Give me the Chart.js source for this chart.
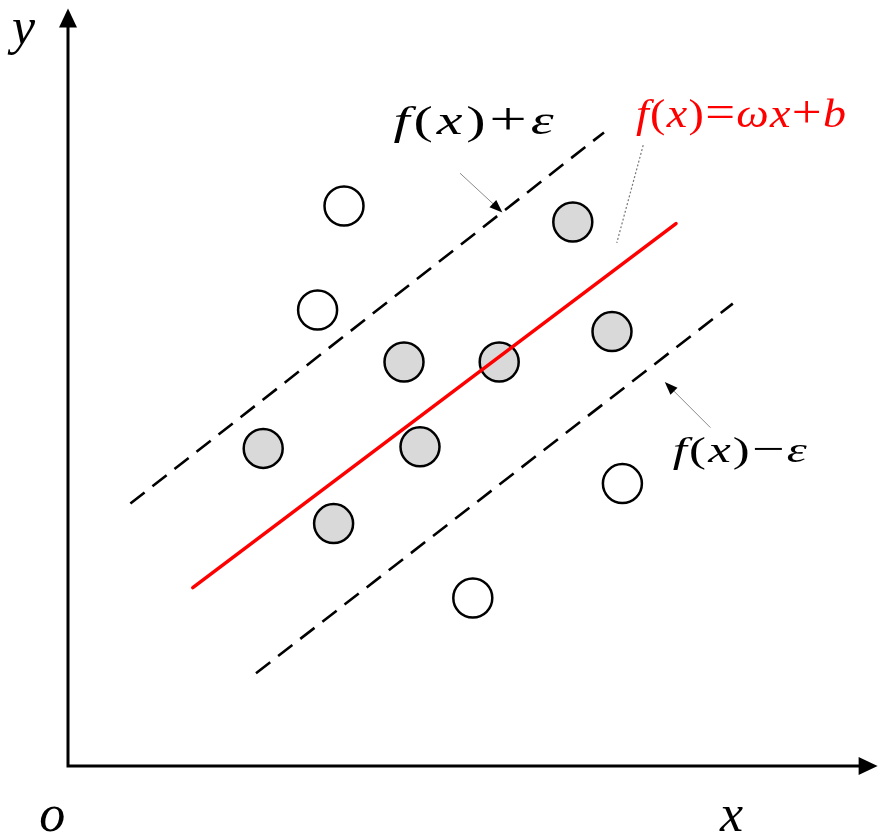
<!DOCTYPE html>
<html>
<head>
<meta charset="utf-8">
<script src="https://cdn.jsdelivr.net/npm/chart.js@4"></script>
<style>
  html, body { margin: 0; padding: 0; background: #fff; }
  #wrap { width: 886px; height: 838px; position: relative; }
</style>
</head>
<body>
<div id="wrap"><canvas id="svr"></canvas></div>
<script>
// sample points (x, y) in plot units, origin at the axis corner
const outsideX = [3.45, 3.12, 6.93, 5.06];
const outsideY = [7.0, 5.7, 3.53, 2.1];
const insideX = [6.31, 4.2, 5.39, 6.8, 2.44, 4.4, 3.32];
const insideY = [6.8, 5.05, 5.05, 5.43, 3.97, 3.99, 3.03];

// regression line f(x) and the epsilon tube
const fitX = [1.56, 7.6];
const fitY = [2.23, 6.78];
const upperX = [0.78, 6.7];
const upperY = [3.28, 7.92];
const lowerX = [2.35, 8.31];
const lowerY = [1.16, 5.78];

const pts = (xs, ys) => xs.map((x, i) => ({ x, y: ys[i] }));

// labels: segments of [text, italic]; w = total width in px, sx = glyph stretch
const labels = [
  { x: 4.07, y: 7.9, size: 40, w: 160, sx: 1.45, color: '#000', parts: [['f', 1], ['(', 0], ['x', 1], [')', 0], ['+', 0], ['ε', 1]] },
  { x: 7.1, y: 7.99, size: 40, w: 210, sx: 1.15, color: '#ff0000', parts: [['f', 1], ['(', 0], ['x', 1], [')', 0], ['=', 0], ['ω', 1], ['x', 1], ['+', 0], ['b', 1]] },
  { x: 7.56, y: 3.8, size: 35, w: 134, sx: 1.45, color: '#000', parts: [['f', 1], ['(', 0], ['x', 1], [')', 0], ['−', 0], ['ε', 1]] }
];
const arrows = [
  { from: [4.9, 7.41], to: [5.43, 6.92] },
  { from: [8.03, 4.23], to: [7.46, 4.8] }
];
const pointer = { from: [7.19, 7.76], to: [6.86, 6.54] };

const overlay = {
  id: 'overlay',
  afterDatasetsDraw(chart) {
    const { ctx, scales } = chart;
    const px = (v) => scales.x.getPixelForValue(v);
    const py = (v) => scales.y.getPixelForValue(v);
    const ox = px(0), oy = py(0);
    ctx.save();

    // axes with arrow heads
    ctx.strokeStyle = '#000';
    ctx.fillStyle = '#000';
    ctx.lineWidth = 3;
    const tipX = px(10.12), tipY = py(9.47);
    ctx.beginPath();
    ctx.moveTo(ox, tipY + 10);
    ctx.lineTo(ox, oy);
    ctx.lineTo(tipX - 10, oy);
    ctx.stroke();
    ctx.beginPath();
    ctx.moveTo(ox, tipY);
    ctx.lineTo(ox - 9, tipY + 19);
    ctx.lineTo(ox + 9, tipY + 19);
    ctx.closePath();
    ctx.fill();
    ctx.beginPath();
    ctx.moveTo(tipX, oy);
    ctx.lineTo(tipX - 19, oy - 9);
    ctx.lineTo(tipX - 19, oy + 9);
    ctx.closePath();
    ctx.fill();

    // small pointer arrows
    arrows.forEach((a) => {
      const x1 = px(a.from[0]), y1 = py(a.from[1]);
      const x2 = px(a.to[0]), y2 = py(a.to[1]);
      const ang = Math.atan2(y2 - y1, x2 - x1);
      ctx.strokeStyle = '#8a8a8a';
      ctx.lineWidth = 1;
      ctx.beginPath();
      ctx.moveTo(x1, y1);
      ctx.lineTo(x2 - 8 * Math.cos(ang), y2 - 8 * Math.sin(ang));
      ctx.stroke();
      ctx.fillStyle = '#000';
      ctx.beginPath();
      ctx.moveTo(x2, y2);
      ctx.lineTo(x2 - 13 * Math.cos(ang) + 5 * Math.sin(ang), y2 - 13 * Math.sin(ang) - 5 * Math.cos(ang));
      ctx.lineTo(x2 - 13 * Math.cos(ang) - 5 * Math.sin(ang), y2 - 13 * Math.sin(ang) + 5 * Math.cos(ang));
      ctx.closePath();
      ctx.fill();
    });

    // dotted leader to the red label
    ctx.strokeStyle = '#777';
    ctx.lineWidth = 1.2;
    ctx.setLineDash([2, 2]);
    ctx.beginPath();
    ctx.moveTo(px(pointer.from[0]), py(pointer.from[1]));
    ctx.lineTo(px(pointer.to[0]), py(pointer.to[1]));
    ctx.stroke();
    ctx.setLineDash([]);

    // formula labels: widened glyphs, bigger operators, spacing fills the rest
    ctx.textBaseline = 'alphabetic';
    const ops = ['+', '−', '='];
    const fontOf = (t, it, size) => (it ? 'italic ' : '') + Math.round(ops.includes(t) ? size * 1.15 : size) +
      'px "Liberation Serif", "Times New Roman", serif';
    labels.forEach((l) => {
      const widths = l.parts.map(([t, it]) => {
        ctx.font = fontOf(t, it, l.size);
        return ctx.measureText(t).width * l.sx;
      });
      const natural = widths.reduce((s, v) => s + v, 0);
      const gap = Math.max(0, (l.w - natural) / (l.parts.length - 1));
      let x = px(l.x);
      const y = py(l.y);
      ctx.fillStyle = l.color;
      l.parts.forEach(([t, it], i) => {
        ctx.font = fontOf(t, it, l.size);
        ctx.save();
        ctx.translate(x, y);
        ctx.scale(l.sx, 1);
        ctx.fillText(t, 0, 0);
        ctx.restore();
        x += widths[i] + gap;
      });
    });

    // axis names
    ctx.fillStyle = '#000';
    ctx.font = 'italic 52px "Liberation Serif", "Times New Roman", serif';
    [['y', -0.7, 9.03], ['o', -0.36, -0.81], ['x', 8.15, -0.81]].forEach(([t, x, y]) => {
      ctx.fillText(t, px(x), py(y));
    });
    ctx.restore();
  }
};

const dashed = (xs, ys) => ({
  type: 'line', data: pts(xs, ys), borderColor: '#000', borderWidth: 2.6,
  borderDash: [18, 10], pointRadius: 0, fill: false
});

new Chart(document.getElementById('svr'), {
  type: 'scatter',
  data: {
    datasets: [
      dashed(upperX, upperY),
      dashed(lowerX, lowerY),
      { type: 'line', data: pts(fitX, fitY), borderColor: '#ff0000', borderWidth: 3.5,
        borderCapStyle: 'round', pointRadius: 0, fill: false },
      { data: pts(outsideX, outsideY), backgroundColor: '#ffffff', borderColor: '#000',
        borderWidth: 2.5, pointRadius: 19.5, pointHoverRadius: 19.5 },
      { data: pts(insideX, insideY), backgroundColor: '#d9d9d9', borderColor: '#000',
        borderWidth: 2.5, pointRadius: 19.5, pointHoverRadius: 19.5 }
    ]
  },
  options: {
    responsive: true,
    maintainAspectRatio: false,
    animation: false,
    layout: { padding: 0, autoPadding: false },
    plugins: { legend: { display: false }, tooltip: { enabled: false } },
    scales: {
      x: { type: 'linear', display: false, min: -0.85, max: 10.225 },
      y: { type: 'linear', display: false, min: -0.9, max: 9.575 }
    }
  },
  plugins: [overlay]
});
</script>
</body>
</html>
